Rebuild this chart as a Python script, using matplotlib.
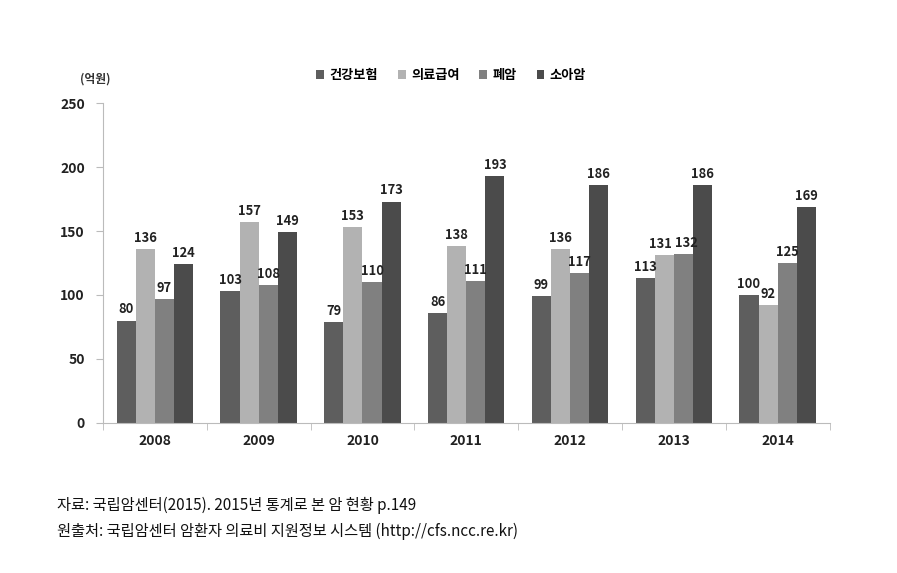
import matplotlib
matplotlib.use("Agg")
import matplotlib.pyplot as plt
import numpy as np

plt.rcParams['font.family'] = ['Noto Sans CJK KR', 'DejaVu Sans']

years = ['2008', '2009', '2010', '2011', '2012', '2013', '2014']
series_names = ['건강보험', '의료급여', '폐암', '소아암']
health_ins = [80, 103, 79, 86, 99, 113, 100]
medical_aid = [136, 157, 153, 138, 136, 131, 92]
lung_cancer = [97, 108, 110, 111, 117, 132, 125]
child_cancer = [124, 149, 173, 193, 186, 186, 169]
series = [health_ins, medical_aid, lung_cancer, child_cancer]
colors = ['#5e5e5e', '#b2b2b2', '#808080', '#4b4b4b']
yticks = [0, 50, 100, 150, 200, 250]

fig = plt.figure(figsize=(8.97, 5.73), dpi=100)
ax = fig.add_axes([0.1148, 0.262, 0.810, 0.558])

x = np.arange(len(years))
w = 0.184
offsets = [-1.5, -0.5, 0.5, 1.5]
data = np.array(series)
for si, (vals, c, off, name) in enumerate(zip(series, colors, offsets, series_names)):
    bars = ax.bar(x + off * w, vals, w, color=c, label=name, edgecolor='none')
    for gi, (b, v) in enumerate(zip(bars, vals)):
        dx = 0
        if si + 1 < len(series) and abs(data[si + 1][gi] - v) < 6:
            dx = -2.5
        if si > 0 and abs(data[si - 1][gi] - v) < 6:
            dx = 2.5
        ax.annotate(str(v), (b.get_x() + b.get_width() / 2, v), xytext=(dx, 3),
                    textcoords='offset points', ha='center', va='bottom',
                    fontsize=9.3, fontweight='bold', color='#222222')

ax.set_xlim(-0.5, len(years) - 0.5)
ax.set_ylim(0, 250)
ax.set_yticks(yticks)
ax.set_yticklabels([str(t) for t in yticks], fontsize=10, fontweight='bold', color='#222222')
ax.set_xticks(x)
ax.set_xticklabels(years, fontsize=10, fontweight='bold', color='#222222')
ax.tick_params(axis='x', length=0, pad=8)
ax.set_xticks(np.arange(-0.5, len(years)), minor=True)
ax.tick_params(axis='x', which='minor', length=5, color='#bbbbbb')
ax.tick_params(axis='y', length=5, color='#bbbbbb', pad=8)
for s in ['top', 'right']:
    ax.spines[s].set_visible(False)
ax.spines['left'].set_color('#bbbbbb')
ax.spines['bottom'].set_color('#bbbbbb')

ax.text(-0.01, 1.075, '(억원)', transform=ax.transAxes, fontsize=8.5, fontweight='bold',
        color='#333333', ha='center', va='center')

leg = fig.legend(loc='center', bbox_to_anchor=(0.503, 0.869), ncol=4, frameon=False,
                 handlelength=0.6, handleheight=0.6, handletextpad=0.4, columnspacing=1.5,
                 prop={'size': 9.5, 'weight': 'bold'})

fig.text(0.064, 0.118, '자료: 국립암센터(2015). 2015년 통계로 본 암 현황 p.149', fontsize=11, color='#111111', va='center')
fig.text(0.064, 0.073, '원출처: 국립암센터 암환자 의료비 지원정보 시스템 (http://cfs.ncc.re.kr)', fontsize=11, color='#111111', va='center')

fig.savefig('out.png', dpi=100)
